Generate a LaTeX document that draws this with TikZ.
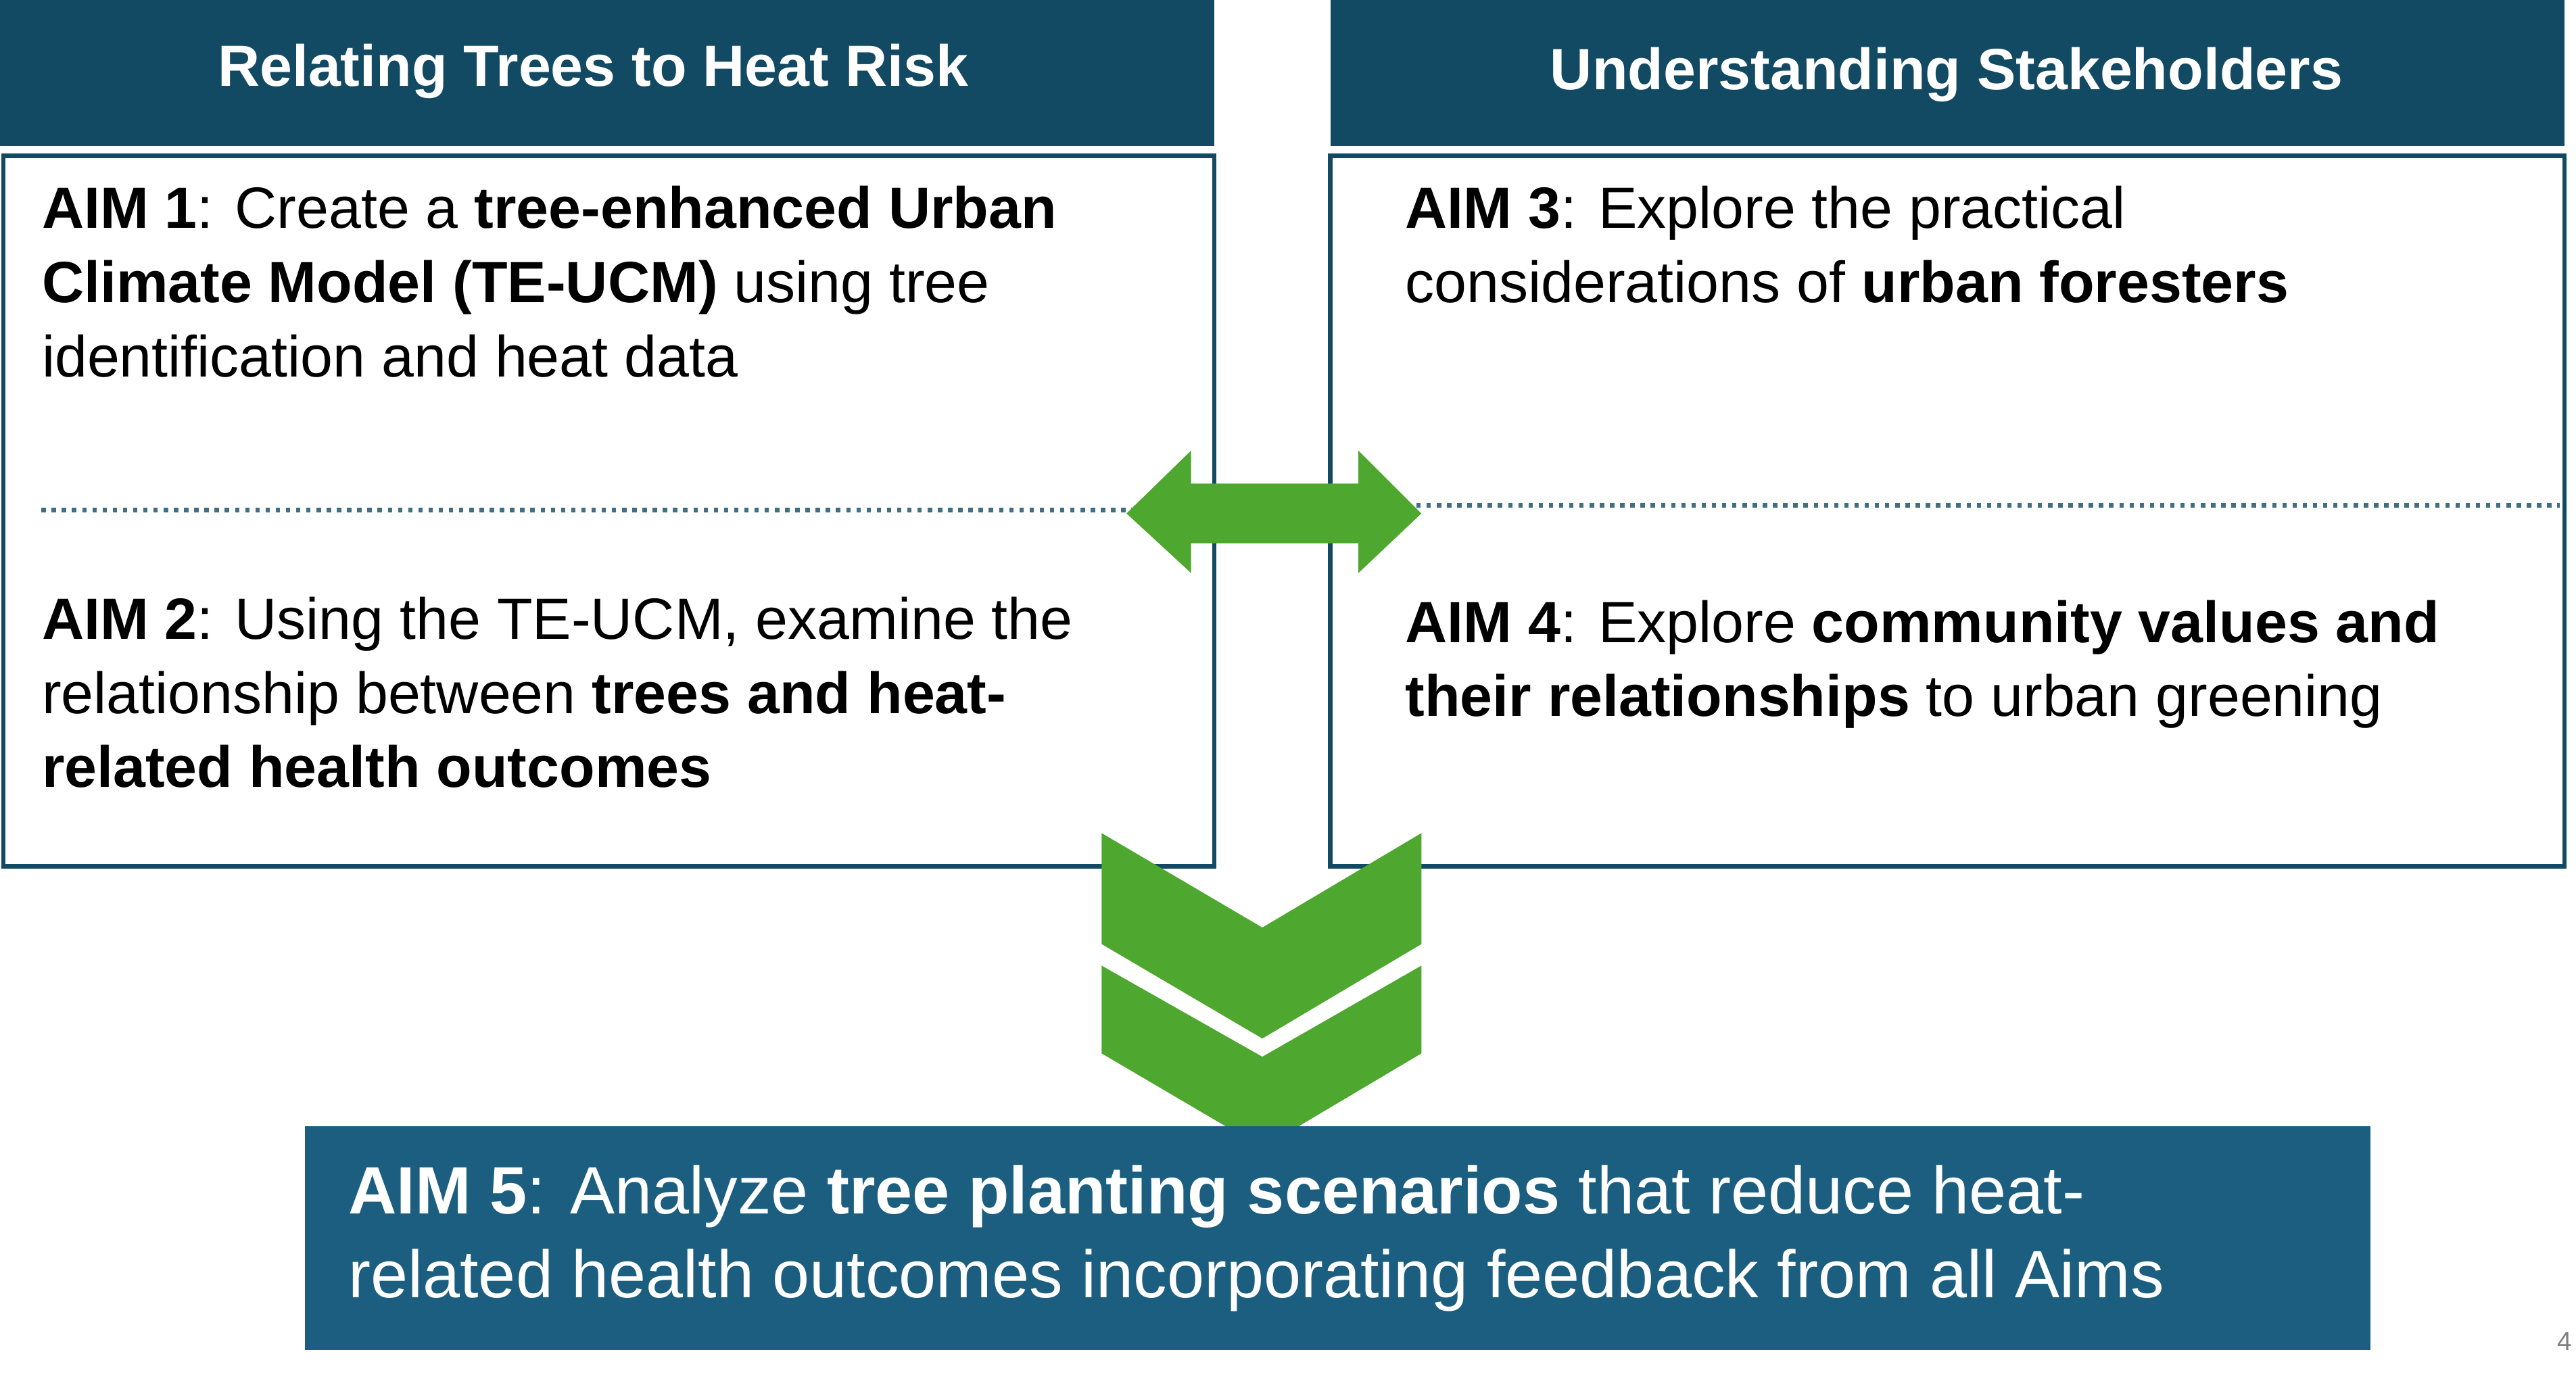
\documentclass[tikz,border=0pt]{standalone}
\usepackage{fontspec}
\setmainfont{Liberation Sans}
\usetikzlibrary{calc}
\definecolor{headblue}{HTML}{134A63}
\definecolor{aimblue}{HTML}{1B5E80}
\definecolor{leafgreen}{HTML}{4EA72E}
\begin{document}
\begin{tikzpicture}[x=0.02cm,y=-0.02cm,
  header/.style={fill=headblue},
  headtext/.style={white,font=\fontsize{20}{24}\selectfont\bfseries},
  aimbox/.style={draw=headblue,line width=1.5pt},
  aimtext/.style={anchor=north west,inner sep=0pt,align=left,font=\fontsize{20}{25.5}\selectfont},
  divider/.style={headblue!80,dotted,line width=1.5pt}]
\useasboundingbox (0,0) rectangle (1555,830);
% headers
\fill[header] (0,0) rectangle (733,88); \node[headtext] (hl) at (358,43) {Relating Trees to Heat Risk};
\fill[header] (803,0) rectangle (1548,88); \node[headtext] (hr) at (1175,45) {Understanding Stakeholders};
% aim boxes
\draw[aimbox] (2,94) rectangle (733,523);
\draw[aimbox] (803,94) rectangle (1548,523);
\draw[divider] (25,308) -- (690,308);
\draw[divider] (855,305) -- (1545,305);
\node[aimtext] (a1) at (25,112) {\textbf{AIM 1}: Create a \textbf{tree-enhanced Urban}\\\textbf{Climate Model (TE-UCM)} using tree\\identification and heat data};
\node[aimtext] (a2) at (25,360) {\textbf{AIM 2}: Using the TE-UCM, examine the\\relationship between \textbf{trees and heat-}\\\textbf{related health outcomes}};
\node[aimtext] (a3) at (848,112) {\textbf{AIM 3}: Explore the practical\\considerations of \textbf{urban foresters}};
\node[aimtext] (a4) at (848,362) {\textbf{AIM 4}: Explore \textbf{community values and}\\\textbf{their relationships} to urban greening};
% arrows
\fill[leafgreen] (680,310) -- (719,272) -- (719,292) -- (820,292) -- (820,272) -- (858,310)
  -- (820,346) -- (820,328) -- (719,328) -- (719,346) -- cycle;
\fill[leafgreen] (665,503) -- (762,560) -- (858,503) -- (858,570) -- (762,627) -- (665,570) -- cycle;
\fill[leafgreen] (665,583) -- (762,638) -- (858,583) -- (858,636) -- (762,693) -- (665,636) -- cycle;
% aim 5
\fill[aimblue] (184,680) rectangle (1431,815);
\node[aimtext,white,font=\fontsize{23}{29}\selectfont] (a5) at (210,703) {\textbf{AIM 5}: Analyze \textbf{tree planting scenarios} that reduce heat-\\related health outcomes incorporating feedback from all Aims};
\node[gray,font=\fontsize{9}{10}\selectfont] (pg) at (1548,810) {4};
\end{tikzpicture}
\end{document}
